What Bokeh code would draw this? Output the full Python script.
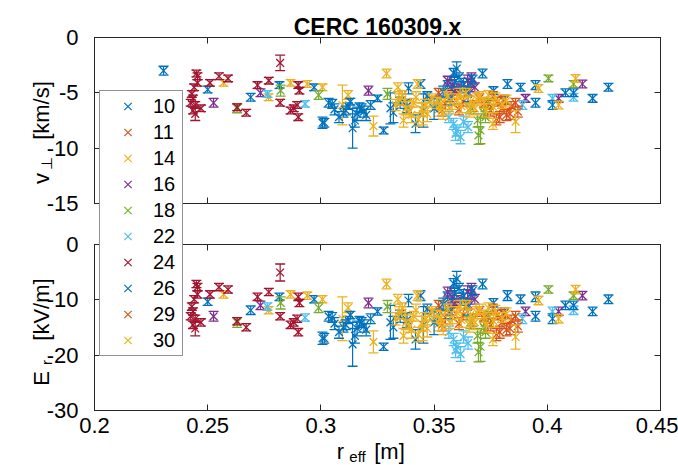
from math import pi
from bokeh.plotting import figure
from bokeh.layouts import column
from bokeh.models import (LinearAxis, FixedTicker, Legend, LegendItem, Label, Range1d,
                          CustomLabelingPolicy)
from bokeh.embed import file_html
from bokeh.resources import INLINE

# ---------------- data ----------------
# r_eff [m], v_perp [km/s], error of v_perp [km/s]
r_10 = [0.2305, 0.250, 0.269, 0.2817, 0.297, 0.3007, 0.3034, 0.306, 0.310, 0.312, 0.314, 0.316, 0.318, 0.320, 0.3277,
        0.3307, 0.3387, 0.3418, 0.344, 0.3453, 0.352, 0.356, 0.3586, 0.360, 0.362, 0.3714, 0.3762, 0.3824, 0.3882, 0.3948,
        0.408, 0.420, 0.427]
v_10 = [-3.0, -4.7, -5.4, -4.3, -4.5, -7.7, -5.9, -6.5, -6.8, -6.2, -8.2, -6.9, -6.4, -7.0, -8.4,
        -6.4, -4.6, -7.8, -4.2, -6.6, -5.8, -4.3, -3.2, -2.8, -4.5, -3.25, -4.8, -4.2, -4.5, -4.3,
        -5.0, -5.5, -4.5]
dv_10 = [0.4, 0.3, 0.35, 0.3, 0.3, 0.5, 0.4, 0.5, 0.4, 0.3, 1.8, 0.6, 0.4, 0.5, 0.3,
         1.4, 0.5, 0.8, 0.4, 1.5, 0.5, 0.4, 0.4, 0.6, 0.5, 0.4, 0.35, 0.4, 0.35, 0.4,
         0.35, 0.35, 0.35]

r_11 = [0.352, 0.355, 0.358, 0.361, 0.363, 0.365, 0.367, 0.370, 0.372, 0.374, 0.376, 0.3535, 0.3595]
v_11 = [-5.0, -6.0, -5.4, -6.5, -5.8, -4.9, -6.2, -5.5, -6.8, -6.0, -5.3, -6.6, -4.8]
dv_11 = [0.4, 0.5, 0.4, 0.5, 0.4, 0.4, 0.5, 0.4, 0.5, 0.4, 0.4, 0.5, 0.4]

r_14 = [0.257, 0.2769, 0.2866, 0.294, 0.3007, 0.3095, 0.312, 0.3232, 0.329, 0.334, 0.336, 0.338, 0.340, 0.3427,
        0.345, 0.348, 0.352, 0.355, 0.358]
v_14 = [-4.1, -5.4, -4.1, -4.2, -4.5, -6.1, -5.2, -8.0, -3.25, -4.5, -5.6, -6.3, -7.0, -4.2,
        -6.9, -5.8, -6.5, -5.2, -6.0]
dv_14 = [0.3, 0.3, 0.3, 0.3, 0.3, 1.8, 0.4, 0.9, 0.4, 0.4, 0.5, 0.6, 0.7, 0.4,
         1.0, 0.5, 0.6, 0.5, 0.5]

r_16 = [0.2526, 0.2733, 0.321, 0.356, 0.358, 0.360, 0.3648, 0.366, 0.368, 0.3904, 0.405, 0.4155, 0.3665]
v_16 = [-5.9, -5.0, -4.8, -3.9, -4.3, -4.6, -3.9, -4.1, -4.5, -5.5, -5.5, -4.2, -3.6]
dv_16 = [0.4, 0.35, 0.4, 0.4, 0.5, 0.4, 0.5, 0.4, 0.4, 0.35, 0.35, 0.35, 0.4]

r_18 = [0.263, 0.2822, 0.299, 0.3294, 0.366, 0.3692, 0.3705, 0.3727, 0.3696, 0.372, 0.4005, 0.4116, 0.374]
v_18 = [-6.4, -4.8, -5.2, -5.1, -6.4, -7.5, -8.4, -7.2, -8.85, -6.8, -3.7, -4.2, -6.0]
dv_18 = [0.4, 0.5, 0.4, 0.5, 0.5, 0.6, 1.2, 0.5, 0.8, 0.5, 0.3, 0.3, 0.5]

r_22 = [0.2764, 0.293, 0.3565, 0.3586, 0.3595, 0.360, 0.3617, 0.363, 0.365, 0.389, 0.4023, 0.4116]
v_22 = [-5.1, -6.0, -7.2, -7.8, -8.7, -8.4, -9.0, -7.6, -8.1, -6.1, -5.5, -5.4]
dv_22 = [0.3, 0.3, 0.5, 0.5, 0.6, 0.5, 0.6, 0.5, 0.5, 0.4, 0.35, 0.35]

r_24 = [0.245, 0.2455, 0.2455, 0.244, 0.243, 0.2435, 0.2425, 0.2445, 0.2435, 0.247, 0.2445, 0.251, 0.255,
        0.259, 0.263, 0.267, 0.272, 0.277, 0.282, 0.282, 0.2866, 0.290, 0.2905, 0.288, 0.2895, 0.290]
v_24 = [-3.25, -3.5, -4.1, -4.5, -5.1, -5.5, -5.9, -6.1, -6.6, -6.4, -6.9, -4.1, -3.5,
        -3.7, -6.3, -6.8, -4.3, -3.9, -2.3, -5.9, -6.6, -4.3, -4.8, -6.4, -6.1, -7.2]
dv_24 = [0.3, 0.3, 0.3, 0.3, 0.3, 0.3, 0.3, 0.3, 0.3, 0.3, 0.6, 0.3, 0.3,
         0.3, 0.3, 0.3, 0.3, 0.3, 0.7, 0.3, 0.3, 0.3, 0.3, 0.3, 0.3, 0.3]

r_26 = [0.305, 0.308, 0.311, 0.313, 0.315, 0.317, 0.319, 0.322, 0.325, 0.332, 0.335, 0.338, 0.347,
        0.350, 0.354, 0.357, 0.359, 0.361, 0.363, 0.365, 0.367, 0.3807, 0.3948, 0.4023, 0.4116, 0.3015]
v_26 = [-6.0, -7.2, -6.6, -5.8, -7.5, -6.3, -6.7, -6.1, -5.5, -6.8, -5.9, -6.2, -5.3,
        -6.4, -4.9, -5.5, -4.0, -3.6, -4.2, -5.1, -3.8, -5.7, -5.9, -6.1, -5.0, -7.7]
dv_26 = [0.4, 0.5, 0.4, 0.3, 0.6, 0.4, 0.5, 0.4, 0.3, 0.9, 0.5, 0.6, 0.4,
         1.0, 0.5, 0.6, 0.5, 0.4, 0.5, 0.7, 0.4, 0.35, 0.4, 0.4, 0.35, 0.4]

r_29 = [0.372, 0.375, 0.378, 0.380, 0.382, 0.384, 0.386, 0.387, 0.379, 0.381, 0.3835, 0.3775]
v_29 = [-6.0, -6.6, -5.8, -6.4, -7.0, -6.2, -5.9, -6.7, -7.2, -5.6, -6.9, -7.4]
dv_29 = [0.4, 0.5, 0.4, 0.5, 0.5, 0.4, 0.4, 0.5, 0.5, 0.4, 0.5, 0.5]

r_30 = [0.333, 0.336, 0.3365, 0.339, 0.341, 0.343, 0.346, 0.349, 0.353, 0.356, 0.360, 0.362, 0.364,
        0.366, 0.368, 0.370, 0.372, 0.374, 0.376, 0.3762, 0.380, 0.386, 0.3961, 0.405, 0.4125,
        0.3345, 0.3375, 0.342, 0.3445, 0.347, 0.351, 0.354, 0.357, 0.3615, 0.3655, 0.369, 0.373, 0.377, 0.382]
v_30 = [-6.1, -5.2, -7.5, -6.7, -5.9, -7.4, -6.1, -5.5, -6.0, -5.3, -5.6, -6.2, -5.0,
        -5.8, -6.4, -5.3, -5.9, -5.2, -7.8, -6.3, -6.0, -7.6, -4.6, -6.1, -3.7,
        -5.6, -6.4, -5.4, -6.5, -6.9, -5.9, -6.8, -6.4, -5.1, -6.6, -5.6, -6.6, -5.5, -5.7]
dv_30 = [0.5, 0.4, 0.6, 0.5, 0.4, 0.6, 0.5, 0.4, 0.5, 0.4, 0.5, 0.6, 0.4,
         0.5, 0.6, 0.4, 0.5, 0.4, 0.5, 0.5, 0.4, 1.0, 0.35, 0.35, 0.35,
         0.5, 0.6, 0.5, 0.6, 0.7, 0.5, 0.6, 0.5, 0.5, 0.6, 0.5, 0.6, 0.5, 0.5]

series_names = ["10", "11", "14", "16", "18", "22", "24", "26", "29", "30"]
series_colors = ["#0072BD", "#D95319", "#EDB120", "#7E2F8E", "#77AC30",
                 "#4DBEEE", "#A2142F", "#0072BD", "#D95319", "#EDB120"]
series_r = [r_10, r_11, r_14, r_16, r_18, r_22, r_24, r_26, r_29, r_30]
series_v = [v_10, v_11, v_14, v_16, v_18, v_22, v_24, v_26, v_29, v_30]
series_dv = [dv_10, dv_11, dv_14, dv_16, dv_18, dv_22, dv_24, dv_26, dv_29, dv_30]

B_FIELD = 2.2  # E_r = v_perp * B  (kV/m per km/s)

x_ticks = [0.2, 0.25, 0.3, 0.35, 0.4, 0.45]
v_ticks = [-15, -10, -5, 0]
e_ticks = [-30, -20, -10, 0]

FONT = "Liberation Sans"
AX = "#262626"
W, H = 678, 465
FL, FR = 94, 18
NAN = float("nan")


def style_axis(ax, ticks, show):
    ax.ticker = FixedTicker(ticks=ticks)
    ax.axis_line_color = AX
    ax.major_tick_line_color = AX
    ax.major_tick_in = 6
    ax.major_tick_out = 0
    ax.minor_tick_line_color = None
    ax.major_label_text_font = FONT
    ax.major_label_text_color = "black"
    if show:
        ax.major_label_text_font_size = "22px"
    else:
        ax.major_label_text_font_size = "0px"
        ax.major_label_standoff = 0
        ax.major_label_policy = CustomLabelingPolicy(code="return []")


def make_fig(yr, top, bottom, transparent):
    p = figure(width=W, height=H, x_range=Range1d(0.2, 0.45), y_range=Range1d(*yr),
               output_backend="svg", toolbar_location=None, frame_align=False,
               min_border_left=FL, min_border_right=FR, min_border_top=top, min_border_bottom=bottom)
    p.xgrid.visible = False
    p.ygrid.visible = False
    p.outline_line_color = AX
    if transparent:
        p.border_fill_alpha = 0
        p.background_fill_alpha = 0
    p.add_layout(LinearAxis(), "above")
    p.add_layout(LinearAxis(), "right")
    return p


def draw(p, scale):
    for name, col, rr, vv, dd in zip(series_names, series_colors, series_r, series_v, series_dv):
        yv = [v * scale for v in vv]
        lo = [(v - d) * scale for v, d in zip(vv, dd)]
        hi = [(v + d) * scale for v, d in zip(vv, dd)]
        p.segment(x0=rr, y0=lo, x1=rr, y1=hi, line_color=col, line_width=1.2)
        p.scatter(x=rr, y=lo, marker="dash", size=10, line_color=col, line_width=1.3)
        p.scatter(x=rr, y=hi, marker="dash", size=10, line_color=col, line_width=1.3)
        p.scatter(x=rr, y=yv, marker="x", size=11, line_color=col, line_width=1.3)


# ---------- top panel ----------
p1 = make_fig((-15, 0), 37, H - 203, False)
style_axis(p1.below[0], x_ticks, False)
style_axis(p1.above[0], x_ticks, False)
style_axis(p1.left[0], v_ticks, True)
style_axis(p1.right[0], v_ticks, False)
p1.left[0].major_label_standoff = 16
p1.left[0].major_label_overrides = {t: str(t) for t in v_ticks}
draw(p1, 1.0)

# ---------- bottom panel ----------
p2 = make_fig((-30, 0), 244, H - 410, True)
style_axis(p2.below[0], x_ticks, True)
style_axis(p2.above[0], x_ticks, False)
style_axis(p2.left[0], e_ticks, True)
style_axis(p2.right[0], e_ticks, False)
p2.left[0].major_label_standoff = 16
p2.below[0].major_label_standoff = 7
p2.left[0].major_label_overrides = {t: str(t) for t in e_ticks}
draw(p2, B_FIELD)

# ---------- overlay page layer: title, axis labels, legend ----------
p3 = figure(width=W, height=H, x_range=Range1d(0, W), y_range=Range1d(H, 0),
            output_backend="svg", toolbar_location=None, x_axis_location=None, y_axis_location=None,
            frame_align=False,
            min_border_left=0, min_border_right=0, min_border_top=0, min_border_bottom=0)
p3.title.visible = False
p3.xgrid.visible = False
p3.ygrid.visible = False
p3.outline_line_color = None
p3.border_fill_alpha = 0
p3.background_fill_alpha = 0


def txt(x, y, s, size, angle=0.0, bold=False):
    p3.add_layout(Label(x=x, y=y, text=s, angle=angle, text_font=FONT, text_font_size=size,
                        text_font_style="bold" if bold else "normal", text_align="center",
                        text_baseline="alphabetic", text_color="black"))


txt(377, 26, "CERC 160309.x", "23px", bold=True)
# v_perp [km/s]
txt(41, 178, "v", "22px", pi / 2)
txt(46, 163, "⊥", "15px", pi / 2)
txt(41, 110, "[km/s]", "22px", pi / 2)
# E_r [kV/m]
txt(41, 378, "E", "22px", pi / 2)
txt(46, 362, "r", "15px", pi / 2)
txt(41, 309, "[kV/m]", "22px", pi / 2)
# r_eff [m]
txt(340, 451, "r", "22px")
txt(357, 456, "eff", "15px")
txt(389, 451, "[m]", "22px")

legend_items = []
for name, col in zip(series_names, series_colors):
    key = p3.scatter(x=[NAN], y=[NAN], marker="x", size=9, line_color=col, line_width=1.2)
    legend_items.append(LegendItem(label=name, renderers=[key]))

legend = Legend(items=legend_items, location=(99, H - 356), orientation="vertical",
                label_text_font=FONT, label_text_font_size="20px", label_text_color="black",
                glyph_width=51, glyph_height=26, label_height=26, label_width=27,
                spacing=0, padding=2, margin=0, label_standoff=0,
                border_line_color=AX, border_line_width=1,
                background_fill_color="white", background_fill_alpha=1.0)
p3.add_layout(legend)

p2.margin = (-H, 0, 0, 0)
p3.margin = (-H, 0, 0, 0)
layout = column(p1, p2, p3)

open("out.html", "w").write(file_html(layout, INLINE, "CERC 160309.x"))
